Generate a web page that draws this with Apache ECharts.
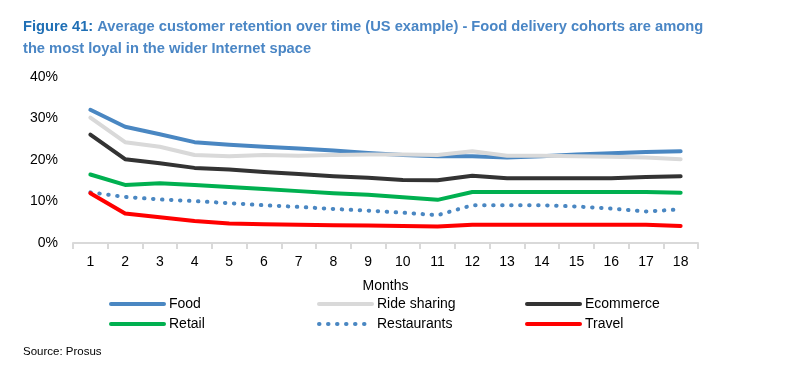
<!DOCTYPE html>
<html><head><meta charset="utf-8">
<script src="https://cdn.jsdelivr.net/npm/echarts@6/dist/echarts.min.js"></script>
<style>html,body{margin:0;padding:0;background:#fff}#c{width:790px;height:385px}</style>
</head><body><div id="c"></div>
<script>
const months = ['1','2','3','4','5','6','7','8','9','10','11','12','13','14','15','16','17','18'];
const food = [32.1,28.0,26.2,24.3,23.7,23.2,22.8,22.3,21.7,21.2,20.9,20.9,20.6,20.9,21.3,21.6,21.9,22.1];
const rideSharing = [30.2,24.3,23.2,21.2,20.9,21.2,21.0,21.2,21.3,21.3,21.2,22.1,21.0,21.0,20.9,20.8,20.6,20.2];
const ecommerce = [26.1,20.2,19.2,18.1,17.7,17.1,16.6,16.1,15.7,15.2,15.1,16.2,15.6,15.6,15.6,15.6,15.9,16.1];
const retail = [16.5,14.0,14.4,14.0,13.5,13.0,12.5,12.0,11.6,11.0,10.4,12.3,12.3,12.3,12.3,12.3,12.3,12.1];
const restaurants = [12.2,11.1,10.5,10.1,9.6,9.1,8.7,8.2,7.8,7.3,6.7,9.1,9.1,9.1,8.8,8.3,7.6,8.1];
const travel = [12.0,7.1,6.2,5.3,4.7,4.5,4.4,4.3,4.2,4.1,4.0,4.4,4.4,4.4,4.4,4.4,4.4,4.1];
const yTicks = [0,10,20,30,40];

const FONT = '"Liberation Sans", Arial, sans-serif';
const chart = echarts.init(document.getElementById('c'), null, {renderer:'canvas'});
function ln(name, data, color, dotted) {
  return {
    name, type:'line', data, showSymbol:false, symbol:'none', smooth:false,
    lineStyle: dotted ? {color, width:4, type:[0.5,8.5], cap:'round'} : {color, width:4, cap:'round', join:'round'},
    itemStyle:{color}, z: dotted ? 1 : 2
  };
}
const legendBase = {
  orient:'vertical', top:297, itemWidth:53, itemHeight:14, itemGap:6,
  itemStyle:{opacity:0},
  lineStyle:{width:4, cap:'round'},
  textStyle:{fontFamily:FONT, fontSize:14, color:'#000'}, padding:0
};
chart.setOption({
  animation:false,
  title:{
    text:'{a|Figure 41:} Average customer retention over time (US example) - Food delivery cohorts are among\nthe most loyal in the wider Internet space',
    left:23, top:16, padding:0,
    textStyle:{fontFamily:FONT, fontSize:14.7, fontWeight:'bold', color:'#4a86c5', lineHeight:22,
      rich:{a:{fontFamily:FONT, fontSize:14.7, fontWeight:'bold', color:'#1f6fb5'}}}
  },
  graphic:[{type:'text', left:23, top:346, style:{text:'Source: Prosus', fontFamily:FONT, fontSize:11.5, fill:'#000'}}],
  legend:[
    Object.assign({}, legendBase, {left:109, data:['Food','Retail']}),
    Object.assign({}, legendBase, {left:317, data:['Ride sharing','Restaurants']}),
    Object.assign({}, legendBase, {left:525, data:['Ecommerce','Travel']})
  ],
  grid:{left:73, right:92, top:77, bottom:142, containLabel:false},
  xAxis:{
    type:'category', data:months, boundaryGap:true,
    name:'Months', nameLocation:'middle', nameGap:36,
    nameTextStyle:{fontFamily:FONT, fontSize:14, color:'#000'},
    axisLine:{lineStyle:{color:'#d9d9d9', width:2}},
    axisTick:{show:true, alignWithLabel:false, length:6, lineStyle:{color:'#d9d9d9', width:2}},
    axisLabel:{fontFamily:FONT, fontSize:14, color:'#000', margin:12}
  },
  yAxis:{
    type:'value', min:yTicks[0], max:yTicks[yTicks.length-1], interval:10,
    axisLine:{show:false}, axisTick:{show:false}, splitLine:{show:false},
    axisLabel:{fontFamily:FONT, fontSize:14, color:'#000', margin:15, formatter:'{value}%'}
  },
  series:[
    ln('Food', food, '#4a87c2'),
    ln('Ride sharing', rideSharing, '#d9d9d9'),
    ln('Ecommerce', ecommerce, '#333333'),
    ln('Retail', retail, '#00b050'),
    ln('Restaurants', restaurants, '#4a87c2', true),
    ln('Travel', travel, '#ff0000')
  ]
});
</script></body></html>
